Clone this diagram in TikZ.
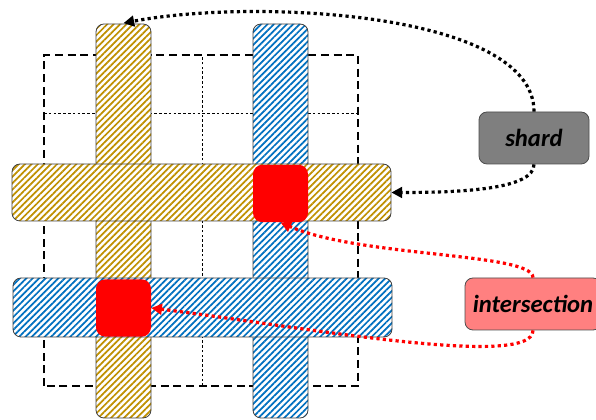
\documentclass[tikz,border=0pt]{standalone}
\usepackage{fontspec}
\setmainfont{Carlito}
\usetikzlibrary{patterns.meta,arrows.meta}
\definecolor{ocre}{RGB}{191,144,0}
\definecolor{bleu}{RGB}{0,112,192}
\definecolor{gris}{RGB}{127,127,127}
\definecolor{rose}{RGB}{255,128,128}

\begin{document}
\begin{tikzpicture}[x=0.75pt,y=0.75pt,
    bande/.style={draw=black!75,line width=0.6pt,rounded corners=6pt,inner sep=0pt,preaction={fill=white}},
    hachure/.style={pattern={Lines[angle=45,distance=3.4pt,line width=1.3pt]},pattern color=#1},
    case/.style={fill=red,rounded corners=7pt,minimum width=41.25pt,minimum height=43pt,inner sep=0pt},
    etiquette/.style={draw=black!70,line width=0.6pt,rounded corners=6pt,minimum height=39pt,inner sep=0pt,
        font=\fontsize{18.5}{22}\selectfont\bfseries\itshape},
    fleche/.style={-{Triangle[length=8pt,width=8pt]},line width=2.4pt,dash pattern=on 2.4pt off 2.4pt}]
    \useasboundingbox (0,0) rectangle (596,420);

    % Grille en pointillés
    \draw[line width=1.1pt,dash pattern=on 6pt off 3.5pt] (44,34) rectangle (358,365);
    \draw[line width=0.7pt,dash pattern=on 2pt off 1.6pt] (202,34) -- (202,365);
    \draw[line width=0.7pt,dash pattern=on 2pt off 1.6pt] (44,307) -- (358,307);

    % Colonnes
    \node[bande,hachure=ocre,minimum width=41.25pt,minimum height=295.5pt] (colA) at (123.5,199) {};
    \node[bande,hachure=bleu,minimum width=41.25pt,minimum height=295.5pt] (colB) at (280.5,199) {};

    % Lignes
    \node[bande,hachure=ocre,minimum width=284.25pt,minimum height=42.75pt] (ligneA) at (201.5,227.5) {};
    \node[bande,hachure=bleu,minimum width=284.25pt,minimum height=44.25pt] (ligneB) at (202.5,112.5) {};

    % Intersections
    \node[case] (interA) at (280.5,226.5) {};
    \node[case] (interB) at (123.5,112) {};

    % Étiquettes
    \node[etiquette,fill=gris,minimum width=82.5pt] (shard) at (534,282) {shard};
    \node[etiquette,fill=rose,minimum width=102pt] (inter) at (533,116) {intersection};

    % Flèches
    \draw[fleche] (shard.north) .. controls +(0,100) and +(130,25) .. (colA.north);
    \draw[fleche] (shard.south) .. controls +(0,-25) and +(70,0) .. (ligneA.east);
    \draw[fleche,red] (inter.north) .. controls +(0,25) and +(80,-35) .. (interA.south);
    \draw[fleche,red] (inter.south) .. controls +(0,-40) and +(139,-17) .. (interB.east);
\end{tikzpicture}
\end{document}
